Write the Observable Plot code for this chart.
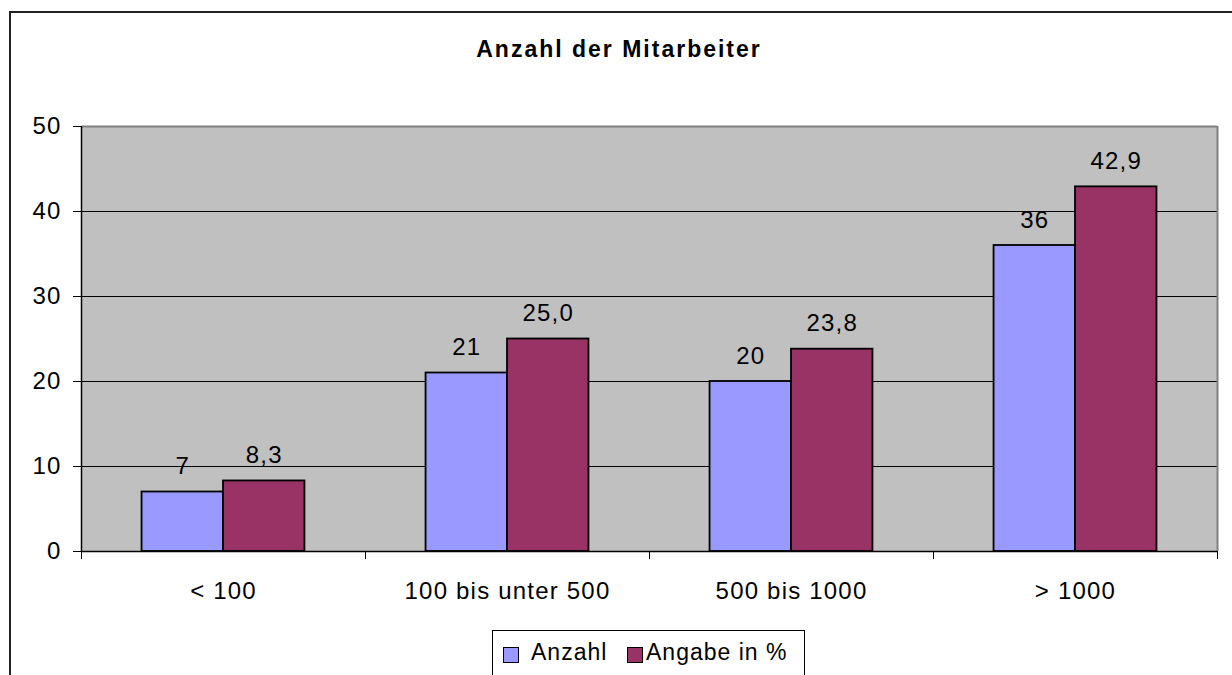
<!DOCTYPE html>
<html>
<head>
<meta charset="utf-8">
<script src="https://cdn.jsdelivr.net/npm/d3@7"></script>
<script src="https://cdn.jsdelivr.net/npm/@observablehq/plot@0.6"></script>
<style>
  html, body { margin: 0; padding: 0; background: #fff; }
  #page { position: relative; width: 1232px; height: 675px; overflow: hidden; font-family: "Liberation Sans", Arial, sans-serif; }
  #border { position: absolute; left: 9px; top: 11px; width: 1300px; height: 800px; border-left: 2px solid #222; border-top: 2px solid #222; }
  #title { position: absolute; left: 0; width: 1238px; top: 36px; text-align: center; font-weight: bold; font-size: 23px; letter-spacing: 2px; color: #000; }
  #chart { position: absolute; left: 0; top: 100px; }
  #legend { position: absolute; left: 492px; top: 630px; width: 311px; height: 80px; border: 1px solid #000; background: #fff; }
  .sw { position: absolute; top: 16px; width: 14px; height: 14px; border: 1px solid #000; }
  .lt { position: absolute; top: 8px; font-size: 23px; letter-spacing: 1px; color: #000; white-space: nowrap; }
</style>
</head>
<body>
<div id="page">
  <div id="border"></div>
  <div id="title">Anzahl der Mitarbeiter</div>
  <div id="chart"></div>
  <div id="legend"></div>
</div>
<script>
const categories = ["< 100", "100 bis unter 500", "500 bis 1000", "> 1000"];
const seriesNames = ["Anzahl", "Angabe in %"];
const anzahl = [7, 21, 20, 36];
const prozent = [8.3, 25.0, 23.8, 42.9];
const seriesColors = ["#9999FF", "#993366"];
const yTicks = [0, 10, 20, 30, 40, 50];

const W = 1232, H = 520, ML = 81, MR = 15, MT = 26, MB = 69;
const bw = (W - ML - MR) / categories.length;
const barW = bw * 0.2868;
const off = (bw - 2 * barW) / 2;

const rowsA = categories.map((c, i) => ({cat: c, v: anzahl[i], label: String(anzahl[i])}));
const rowsP = categories.map((c, i) => ({cat: c, v: prozent[i], label: prozent[i].toFixed(1).replace(".", ",")}));

const chart = Plot.plot({
  width: W, height: H,
  marginLeft: ML, marginRight: MR, marginTop: MT, marginBottom: MB,
  style: {fontFamily: "Liberation Sans, Arial, sans-serif", fontSize: "24px", letterSpacing: "1.2px", color: "#000", background: "transparent", overflow: "visible"},
  x: {domain: categories, padding: 0, label: null},
  y: {domain: [0, 50], label: null},
  marks: [
    Plot.frame({fill: "#C0C0C0", stroke: null}),
    Plot.gridY(yTicks.filter(t => t > 0 && t < 50), {stroke: "#000", strokeOpacity: 1, strokeWidth: 1}),
    Plot.ruleY([50], {stroke: "#808080", strokeWidth: 2}),
    Plot.ruleX([categories[categories.length - 1]], {dx: bw / 2, y1: 0, y2: 50, stroke: "#808080", strokeWidth: 2}),
    Plot.barY(rowsA, {x: "cat", y: "v", fill: seriesColors[0], stroke: "#000", strokeWidth: 1.8, insetLeft: off, insetRight: bw - off - barW}),
    Plot.barY(rowsP, {x: "cat", y: "v", fill: seriesColors[1], stroke: "#000", strokeWidth: 1.8, insetLeft: off + barW, insetRight: off}),
    Plot.text(rowsA, {x: "cat", y: "v", text: "label", dx: -barW / 2, dy: -18, lineAnchor: "bottom", fill: "#000"}),
    Plot.text(rowsP, {x: "cat", y: "v", text: "label", dx: barW / 2, dy: -18, lineAnchor: "bottom", fill: "#000"}),
    Plot.ruleY([0], {stroke: "#000", strokeWidth: 1.5}),
    Plot.ruleX([categories[0]], {dx: -bw / 2, y1: 0, y2: 50, stroke: "#000", strokeWidth: 1.5}),
    Plot.ruleX(categories, {dx: -bw / 2, y1: 0, y2: -0.95, stroke: "#000", strokeWidth: 1}),
    Plot.ruleX([categories[categories.length - 1]], {dx: bw / 2, y1: 0, y2: -0.95, stroke: "#000", strokeWidth: 1}),
    Plot.axisY({ticks: yTicks, tickSize: 8, tickPadding: 12, stroke: "#000", strokeOpacity: 1, fill: "#000"}),
    Plot.axisX({tickSize: 0, tickPadding: 30, fill: "#000"})
  ]
});
document.getElementById("chart").appendChild(chart);

const legend = document.getElementById("legend");
const items = [
  {name: seriesNames[0], color: seriesColors[0], sx: 10, tx: 38},
  {name: seriesNames[1], color: seriesColors[1], sx: 134, tx: 153}
];
items.forEach(it => {
  const s = document.createElement("div");
  s.className = "sw"; s.style.left = it.sx + "px"; s.style.background = it.color;
  legend.appendChild(s);
  const t = document.createElement("div");
  t.className = "lt"; t.style.left = it.tx + "px"; t.textContent = it.name;
  legend.appendChild(t);
});
</script>
</body>
</html>
